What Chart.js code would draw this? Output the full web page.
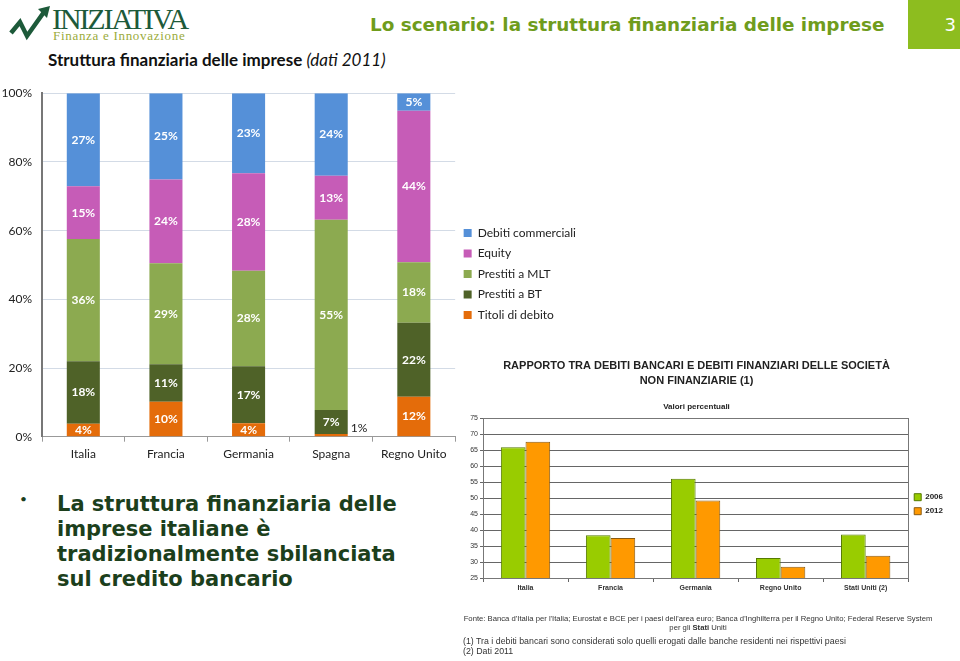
<!DOCTYPE html>
<html><head><meta charset="utf-8">
<script src="https://cdn.jsdelivr.net/npm/chart.js@4/dist/chart.umd.min.js"></script>
<style>
body{margin:0;width:960px;height:661px;background:#fff;position:relative;overflow:hidden;font-family:Lato,sans-serif}
.abs{position:absolute;white-space:nowrap}
#logo1{left:52px;top:4px;font-family:"Liberation Serif",serif;font-size:30px;color:#1d5a3a;letter-spacing:-2.1px;line-height:30px}
#logo2{left:53px;top:28px;font-family:"Liberation Serif",serif;font-size:13px;color:#9aab3a;letter-spacing:0.7px;line-height:16px}
#title{left:370px;top:13px;font-family:"DejaVu Sans",sans-serif;font-weight:bold;font-size:18.4px;color:#6f9c1c;line-height:24px}
#pagebox{left:908px;top:0;width:52px;height:49px;background:#8dbd1f;color:#fff;font-family:"DejaVu Sans",sans-serif;font-size:18px;line-height:49px;text-align:right;box-sizing:border-box;padding-right:4px}
#sub{left:48px;top:50px;font-family:Lato,sans-serif;font-size:17px;font-weight:bold;color:#111;line-height:20px}
#sub i{font-weight:normal}
#bullet{left:20px;top:491px;font-size:12px;color:#1c3f1c}
#btext{left:57px;top:492px;font-family:"DejaVu Sans",sans-serif;font-weight:bold;font-size:21px;color:#1c3f1c;line-height:25px}
.foot{font-family:"Liberation Sans",Arial,sans-serif;color:#333;line-height:9px}
</style></head><body>
<svg class="abs" style="left:0;top:0" width="56" height="44">
  <path d="M11 33 L20 22 L27 36 L44 12" stroke="#1d5a3a" stroke-width="4.5" fill="none" stroke-linejoin="miter" stroke-linecap="butt"/>
  <path d="M38 9 L50 6 L47 18 Z" fill="#1d5a3a"/>
</svg>
<div id="logo1" class="abs">INIZIATIVA</div>
<div id="logo2" class="abs">Finanza e Innovazione</div>
<div id="title" class="abs">Lo scenario: la struttura finanziaria delle imprese</div>
<div id="pagebox" class="abs">3</div>
<div id="sub" class="abs">Struttura finanziaria delle imprese <i>(dati 2011)</i></div>
<div id="bullet" class="abs">•</div>
<div id="btext" class="abs">La struttura finanziaria delle<br>imprese italiane è<br>tradizionalmente sbilanciata<br>sul credito bancario</div>

<canvas id="c1" class="abs" style="left:0;top:80px" width="586" height="390"></canvas>
<canvas id="c2" class="abs" style="left:440px;top:352px" width="516" height="248"></canvas>

<div class="abs foot" style="left:443px;width:510px;top:614px;text-align:center;white-space:normal;font-size:7.7px">Fonte: Banca d'Italia per l'Italia; Eurostat e BCE per i paesi dell'area euro; Banca d'Inghilterra per il Regno Unito; Federal Reserve System<br>per gli <b>Stati</b> Uniti</div>
<div class="abs foot" style="left:463px;top:637px;font-size:8.8px">(1) Tra i debiti bancari sono considerati solo quelli erogati dalle banche residenti nei rispettivi paesi</div>
<div class="abs foot" style="left:463px;top:647px;font-size:8.8px">(2) Dati 2011</div>

<script>
// ---- Chart 1 data: Struttura finanziaria delle imprese (dati 2011) ----
const categories1 = ['Italia', 'Francia', 'Germania', 'Spagna', 'Regno Unito'];
const titoliDebito = [3.8, 10.2, 3.9, 0.8, 11.6];
const prestitiBT = [18.2, 10.9, 16.6, 7.0, 21.6];
const prestitiMLT = [35.6, 29.4, 27.8, 55.4, 17.6];
const equity = [15.3, 24.4, 28.4, 12.8, 44.1];
const debitiCommerciali = [27.1, 25.1, 23.3, 24.0, 5.1];
const yTicks1 = [0, 20, 40, 60, 80, 100];

// ---- Chart 2 data: Rapporto tra debiti bancari e debiti finanziari ----
const categories2 = ['Italia', 'Francia', 'Germania', 'Regno Unito', 'Stati Uniti (2)'];
const v2006 = [66.0, 38.4, 56.1, 31.3, 38.6];
const v2012 = [67.7, 37.5, 49.3, 28.5, 32.0];
const yTicks2 = [25, 30, 35, 40, 45, 50, 55, 60, 65, 70, 75];

Chart.defaults.font.family = 'Lato';
Chart.defaults.animation = false;

const segLabels = {
  id: 'segLabels',
  afterDatasetsDraw(chart) {
    const ctx = chart.ctx;
    ctx.save();
    chart.data.datasets.forEach((ds, i) => {
      const meta = chart.getDatasetMeta(i);
      meta.data.forEach((bar, j) => {
        const v = ds.data[j];
        const txt = Math.round(v) + '%';
        ctx.textBaseline = 'middle';
        if (v < 2) {
          ctx.font = '12px Lato';
          ctx.fillStyle = '#222';
          ctx.textAlign = 'left';
          ctx.fillText(txt, bar.x + bar.width / 2 + 3, bar.y - 6);
        } else {
          ctx.font = 'bold 12px Lato';
          ctx.fillStyle = '#fff';
          ctx.textAlign = 'center';
          ctx.fillText(txt, bar.x, (bar.y + bar.base) / 2);
        }
      });
    });
    ctx.restore();
  }
};

const frame = {
  id: 'frame',
  afterDraw(chart) {
    const a = chart.chartArea, ctx = chart.ctx;
    ctx.save();
    ctx.strokeStyle = '#777';
    ctx.lineWidth = 1;
    ctx.strokeRect(Math.round(a.left) + 0.5, Math.round(a.top) + 0.5, Math.round(a.right - a.left), Math.round(a.bottom - a.top));
    ctx.restore();
  }
};

function draw() {
  new Chart(document.getElementById('c1'), {
    type: 'bar',
    data: {
      labels: categories1,
      datasets: [
        { label: 'Titoli di debito', data: titoliDebito, backgroundColor: '#e46c0a' },
        { label: 'Prestiti a BT', data: prestitiBT, backgroundColor: '#4f6228' },
        { label: 'Prestiti a MLT', data: prestitiMLT, backgroundColor: '#8caa50' },
        { label: 'Equity', data: equity, backgroundColor: '#c65cb7' },
        { label: 'Debiti commerciali', data: debitiCommerciali, backgroundColor: '#5590d8' }
      ]
    },
    options: {
      responsive: false,
      barPercentage: 0.4,
      categoryPercentage: 1,
      layout: { padding: { top: 13.3, left: 0, bottom: 0, right: 0 } },
      plugins: {
        legend: {
          position: 'right',
          reverse: true,
          fullSize: false,
          title: { display: true, text: ' ', padding: 0, font: { size: 15, lineHeight: 1.2 } },
          labels: { boxWidth: 8, boxHeight: 8, padding: 8.5, color: '#222', font: { size: 12 } }
        },
        tooltip: { enabled: false }
      },
      scales: {
        x: {
          stacked: true,
          afterFit(s) { s.height = 33.3; },
          grid: { drawOnChartArea: false, drawTicks: true, tickLength: 5, color: '#999' },
          border: { color: '#999', width: 1 },
          ticks: { color: '#222', font: { size: 12 }, padding: 5 }
        },
        y: {
          stacked: true,
          min: 0, max: 100,
          afterFit(s) { s.width = 42; },
          afterBuildTicks(s) { s.ticks = yTicks1.map(v => ({ value: v })); },
          grid: { color: '#d3dbe6', drawTicks: false },
          border: { color: '#777', width: 2 },
          ticks: { color: '#222', font: { size: 12, lineHeight: 0.5 }, padding: 10, callback: v => v + '%' }
        }
      }
    },
    plugins: [segLabels]
  });

  new Chart(document.getElementById('c2'), {
    type: 'bar',
    data: {
      labels: categories2,
      datasets: [
        { label: '2006', data: v2006, backgroundColor: '#99cc00', borderColor: '#557a00', borderWidth: 1 },
        { label: '2012', data: v2012, backgroundColor: '#ff9900', borderColor: '#8a5a10', borderWidth: 1 }
      ]
    },
    options: {
      responsive: false,
      barPercentage: 1,
      categoryPercentage: 0.58,
      layout: { padding: { top: 0, left: 0, bottom: 0, right: 3 } },
      plugins: {
        title: {
          display: true,
          text: ['RAPPORTO TRA DEBITI BANCARI E DEBITI FINANZIARI DELLE SOCIETÀ', 'NON FINANZIARIE (1)'],
          color: '#222',
          font: { family: 'Liberation Sans', size: 11, weight: 'bold', lineHeight: 1.4 },
          padding: { top: 6, bottom: 0 }
        },
        subtitle: {
          display: true,
          text: 'Valori percentuali',
          color: '#222',
          font: { family: 'Liberation Sans', size: 8, weight: 'bold', lineHeight: 1.2 },
          padding: { top: 13, bottom: 7 }
        },
        legend: {
          position: 'right',
          fullSize: false,
          title: { display: true, text: ' ', padding: 0, font: { size: 10, lineHeight: 1.2 } },
          labels: { boxWidth: 7, boxHeight: 7, padding: 6, color: '#222', font: { family: 'Liberation Sans', size: 8, weight: 'bold' } }
        },
        tooltip: { enabled: false }
      },
      scales: {
        x: {
          afterFit(s) { s.height = 22; },
          grid: { drawOnChartArea: false, drawTicks: true, tickLength: 4, color: '#666' },
          border: { color: '#666' },
          ticks: { color: '#333', padding: 2, font: { family: 'Liberation Sans', size: 7, weight: 'bold' } }
        },
        y: {
          min: 25, max: 75,
          afterFit(s) { s.width = 43; },
          afterBuildTicks(s) { s.ticks = yTicks2.map(v => ({ value: v })); },
          grid: { color: '#666', tickLength: 3 },
          border: { color: '#666' },
          ticks: { color: '#333', padding: 2, font: { family: 'Liberation Sans', size: 7 } }
        }
      }
    },
    plugins: [frame]
  });
}

Promise.all([
  document.fonts.load('12px Lato'),
  document.fonts.load('bold 12px Lato'),
  document.fonts.load('bold 10px "Liberation Sans"'),
  document.fonts.load('7px "Liberation Sans"')
]).then(draw, draw);
</script>
</body></html>
